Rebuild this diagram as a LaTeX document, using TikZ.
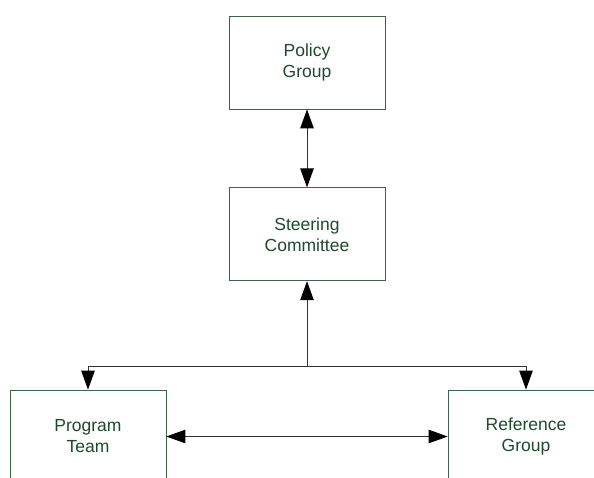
\documentclass[tikz,border=0pt]{standalone}
\usepackage{fontspec}
\setmainfont{Liberation Sans}
\usepackage{tikz}
\usetikzlibrary{arrows.meta,positioning}
\definecolor{boxgreen}{HTML}{3A6446}
\definecolor{textgreen}{HTML}{1E4A2A}
\tikzset{
  unit/.style={draw=boxgreen, line width=0.8pt, minimum width=156pt, minimum height=93pt,
    inner sep=0pt, align=center, text=textgreen, font=\fontsize{17.5}{21}\selectfont},
  link/.style={draw=black!80, line width=0.9pt},
  tip/.style={-{Triangle[length=19pt,width=13.5pt,color=black]}},
  tips/.style={{Triangle[length=19pt,width=13.5pt,color=black]}-{Triangle[length=19pt,width=13.5pt,color=black]}}
}
\begin{document}
\begin{tikzpicture}[x=1pt, y=-1pt]
  \useasboundingbox (0,0) rectangle (594,477);
  \clip (0,0) rectangle (594,477);
  \node[unit] (policy) at (307,62.5) {Policy\\Group};
  \node[unit, below=78pt of policy] (steering) {Steering\\Committee};
  \node[unit] (program) at (88,436.5) {Program\\Team};
  \node[unit] (reference) at (526,436.5) {Reference\\Group};
  \coordinate (hub) at (307,366);
  % links between the groups
  \path[link]
    (policy) edge [tips] (steering)
    (hub) edge [tip] (steering)
    (program) edge [tips] (reference);
  \draw[link, tip] (hub) -| (program.north);
  \draw[link, tip] (hub) -| (reference.north);
\end{tikzpicture}
\end{document}
